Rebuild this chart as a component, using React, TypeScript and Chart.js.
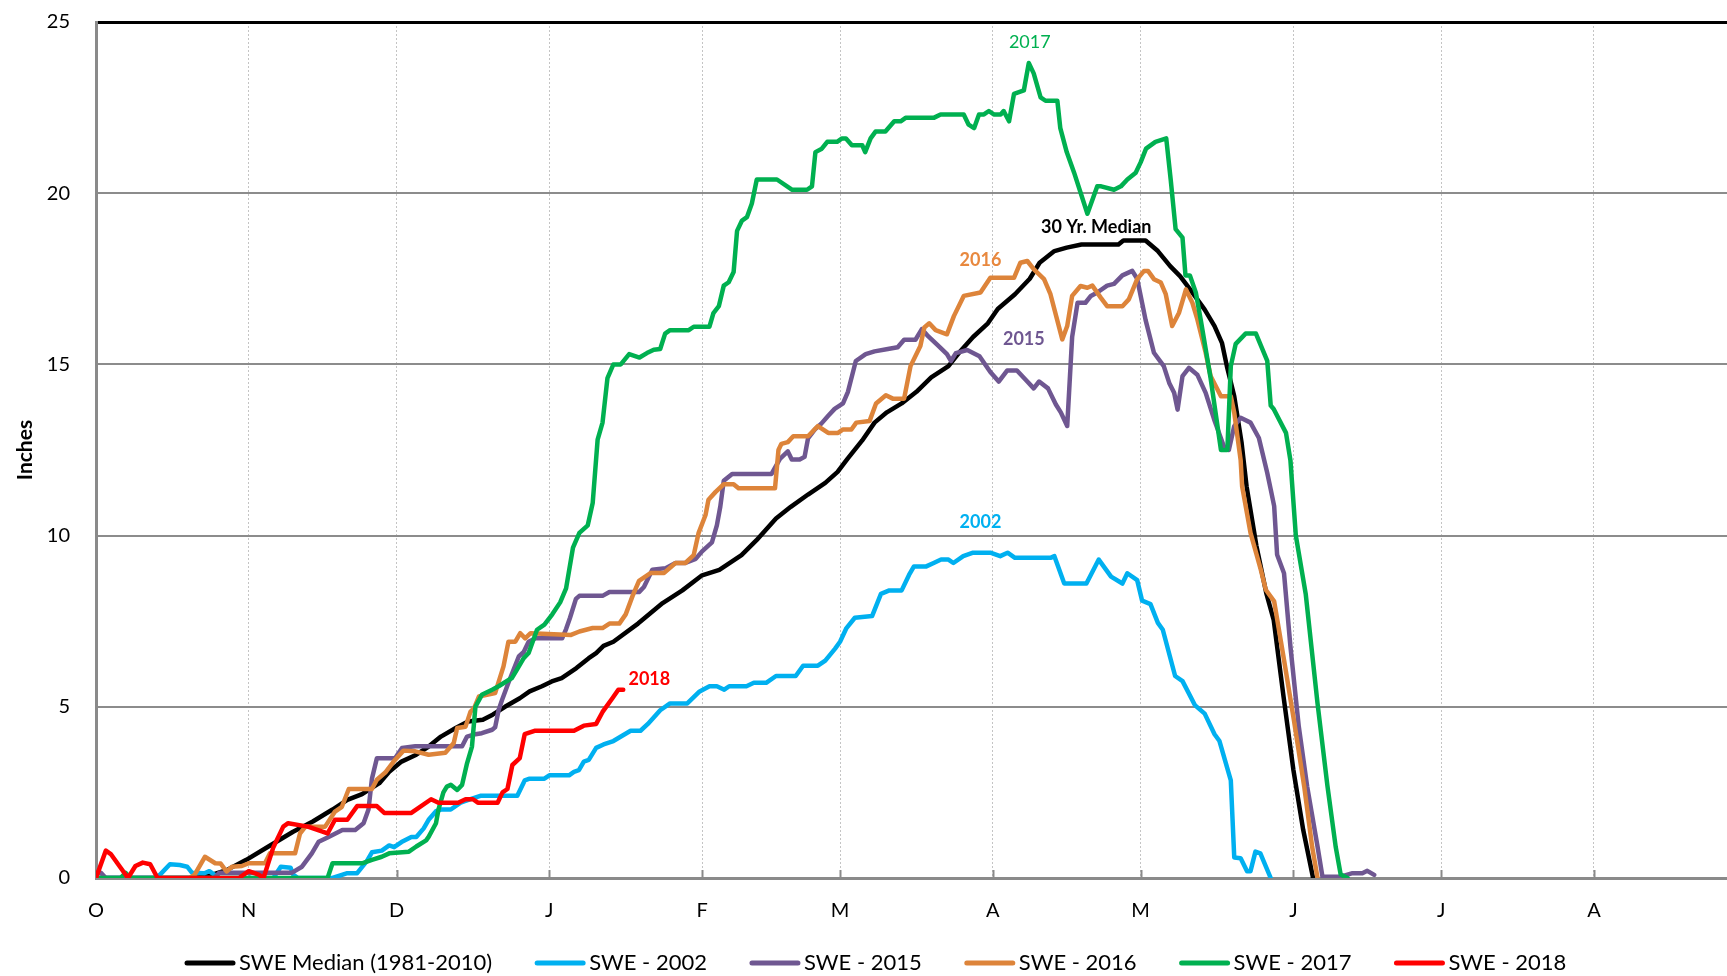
import React, { useEffect, useRef } from 'react';
import { Chart, registerables } from 'chart.js';

Chart.register(...registerables);

// ---------- data ----------
const monthStarts = [0, 31, 61, 92, 123, 151, 182, 212, 243, 273, 304, 335];
const monthLabels = ['O', 'N', 'D', 'J', 'F', 'M', 'A', 'M', 'J', 'J', 'A', 'S'];
const yTickValues = [0, 5, 10, 15, 20, 25];
const seriesNames = ['SWE Median (1981-2010)', 'SWE - 2002', 'SWE - 2015', 'SWE - 2016', 'SWE - 2017', 'SWE - 2018'];
const seriesColors = ['#000000', '#00B0F0', '#6F5791', '#DD843A', '#00B050', '#FF0000'];

// [day of water year (0 = Oct 1), inches]
const medianSWE: [number, number][] = [
  [0, 0], [20, 0], [22.5, 0.05], [26.5, 0.23], [30.5, 0.53], [35, 0.92], [40, 1.35], [44, 1.65], [48, 2.0], [51, 2.28],
  [54, 2.45], [57.5, 2.77], [59.5, 3.1], [62, 3.4], [65, 3.6], [67.5, 3.84], [70, 4.13], [73, 4.38], [75.5, 4.57], [78.5, 4.62],
  [80.5, 4.77], [83, 5.0], [86, 5.25], [88, 5.45], [90.5, 5.6], [92.5, 5.74], [94.5, 5.84], [97.5, 6.13], [100, 6.42], [101.5, 6.57],
  [103, 6.78], [105, 6.9], [110, 7.43], [115, 8.03], [119, 8.4], [123, 8.84], [126.5, 9.0], [131, 9.43], [134, 9.86], [138, 10.5],
  [141, 10.84], [144.5, 11.2], [148, 11.54], [150.5, 11.86], [152.5, 12.24], [155.5, 12.78], [158, 13.3], [160.5, 13.6], [163.5, 13.86],
  [166.5, 14.2], [169.5, 14.62], [173, 14.95], [175.5, 15.4], [178, 15.8], [181, 16.2], [183, 16.62], [186.5, 17.05], [189.5, 17.5],
  [191.5, 17.97], [194.5, 18.31], [197, 18.41], [200, 18.5], [207.5, 18.5], [208.5, 18.62], [213, 18.62], [215.5, 18.31], [218, 17.87],
  [220, 17.58], [222, 17.2], [225, 16.6], [227, 16.12], [228.5, 15.63], [229.5, 14.95], [231, 14.07], [232.5, 12.7], [233.5, 11.44],
  [235.5, 9.7], [237.5, 8.32], [239, 7.54], [241, 5.3], [243, 3.16], [245, 1.4], [247, 0],
];

const swe2002: [number, number][] = [
  [0, 0], [12, 0], [13, 0.1], [15, 0.4], [17, 0.38], [18.5, 0.33], [19.5, 0.15], [22, 0.14], [23, 0.2], [24, 0.1], [25, 0],
  [36, 0], [37.5, 0.33], [39.5, 0.3], [40, 0.1], [41, 0], [48, 0], [51, 0.14], [53, 0.14], [55, 0.5], [56, 0.75], [58, 0.8],
  [59.5, 0.95], [60.5, 0.9], [62, 1.05], [64, 1.2], [65, 1.2], [66.5, 1.45], [67.5, 1.7], [69, 1.95], [70, 2.0], [72, 2.0],
  [74, 2.2], [76, 2.3], [78, 2.4], [85.5, 2.4], [87, 2.85], [88, 2.9], [91, 2.9], [92, 3.0], [96, 3.0], [97, 3.1], [98, 3.15],
  [99, 3.4], [100, 3.45], [101.5, 3.8], [103, 3.9], [105, 4.0], [108.5, 4.3], [110.5, 4.3], [112, 4.5], [114.5, 4.9], [116.5, 5.1],
  [120, 5.1], [122.5, 5.45], [124.5, 5.6], [126, 5.6], [127.5, 5.5], [128.5, 5.6], [132, 5.6], [133.5, 5.7], [136, 5.7], [138, 5.9],
  [142, 5.9], [143.5, 6.2], [146.5, 6.2], [148, 6.35], [150, 6.7], [151, 6.9], [152.3, 7.3], [154, 7.6], [157.5, 7.65], [159.3, 8.3],
  [161, 8.4], [163.5, 8.4], [165, 8.85], [166, 9.1], [168.5, 9.1], [170, 9.2], [171.5, 9.3], [173, 9.3], [174, 9.2], [176, 9.4],
  [178, 9.5], [181.5, 9.5], [183.5, 9.4], [185, 9.5], [186.5, 9.35], [193.7, 9.35], [194.5, 9.4], [196.5, 8.6], [201, 8.6],
  [203.5, 9.3], [206, 8.8], [208.3, 8.6], [209.3, 8.9], [211.3, 8.7], [212.3, 8.1], [214, 8.0], [215.5, 7.45], [216.5, 7.25],
  [219, 5.9], [220.5, 5.75], [223, 5.05], [225, 4.8], [227, 4.2], [228, 4.0], [230.3, 2.85], [231, 0.6], [232.3, 0.58],
  [233.6, 0.2], [234.3, 0.2], [235.3, 0.77], [236.3, 0.72], [238.4, 0],
];

const swe2015: [number, number][] = [
  [0, 0.15], [1, 0.15], [2, 0], [24, 0], [25, 0.15], [39.7, 0.15], [41.8, 0.33], [43.8, 0.72], [45.2, 1.06], [47.2, 1.2], [50, 1.4],
  [52.6, 1.4], [54.3, 1.6], [55.3, 2.0], [56, 2.9], [57, 3.5], [60.7, 3.5], [62.1, 3.8], [64.8, 3.85], [74.3, 3.85], [75.3, 4.13],
  [77, 4.2], [78.3, 4.23], [80.4, 4.33], [81, 4.4], [81.7, 4.9], [82.4, 5.2], [83.7, 5.7], [85.8, 6.47], [86.8, 6.6], [87.8, 6.9],
  [89.2, 7.0], [94.6, 7.0], [95.4, 7.27], [96.2, 7.6], [97.4, 8.15], [98.1, 8.24], [102.8, 8.24], [104.2, 8.35], [110.2, 8.35],
  [111.2, 8.5], [112.9, 9.0], [115.6, 9.05], [117.6, 9.2], [119.6, 9.2], [121.7, 9.32], [123, 9.54], [125, 9.8], [126, 10.3],
  [126.7, 10.85], [127.4, 11.6], [129.1, 11.8], [137.1, 11.8], [138.8, 12.24], [140.4, 12.46], [141.2, 12.22], [142.8, 12.22],
  [143.8, 12.3], [144.5, 12.84], [145.9, 13.1], [147.2, 13.27], [148.6, 13.5], [149.9, 13.7], [151.6, 13.86], [152.6, 14.2],
  [154.2, 15.1], [156.2, 15.3], [158, 15.38], [160.7, 15.45], [162.7, 15.5], [164, 15.72], [166.3, 15.72], [167.6, 16.03],
  [168.7, 15.85], [170.7, 15.58], [172.7, 15.3], [173.5, 15.1], [174.5, 15.33], [176.8, 15.42], [179.3, 15.24], [181.5, 14.78],
  [183.2, 14.5], [184.9, 14.82], [186.9, 14.82], [189, 14.5], [190.3, 14.3], [191.4, 14.5], [193.2, 14.3], [194.8, 13.83],
  [195.8, 13.6], [197.1, 13.2], [198.1, 15.8], [199.2, 16.8], [200.8, 16.8], [201.9, 17.0], [203.2, 17.1], [205.2, 17.3],
  [206.6, 17.35], [208.3, 17.6], [210.3, 17.73], [211.3, 17.5], [213, 16.3], [214.7, 15.34], [216.7, 14.95], [217.8, 14.46],
  [218.8, 14.17], [219.5, 13.68], [220.5, 14.66], [221.8, 14.9], [223.5, 14.7], [225.2, 14.17], [226.9, 13.4], [228.9, 12.6],
  [229.9, 12.5], [231, 13.2], [232.3, 13.44], [234.3, 13.3], [236, 12.85], [237.7, 11.83], [238.4, 11.35], [239.1, 10.86],
  [239.7, 9.44], [241.1, 8.9], [242.4, 6.76], [244.1, 4.42], [245.8, 2.67], [247.9, 0.92], [248.9, 0.04], [252.6, 0.04],
  [255, 0.14], [257, 0.14], [258, 0.21], [259.4, 0.09],
];

const swe2016: [number, number][] = [
  [19, 0], [20, 0.09], [22.1, 0.62], [24.2, 0.43], [25.3, 0.42], [26.5, 0.19], [27.6, 0.33], [29.6, 0.35], [31, 0.43], [34.3, 0.43],
  [35.3, 0.72], [40.4, 0.72], [41.4, 1.3], [42.5, 1.5], [46.5, 1.5], [48.5, 1.94], [49.9, 2.08], [51.3, 2.6], [56, 2.6], [57, 2.87],
  [58.7, 3.08], [60.4, 3.4], [62.4, 3.72], [64.8, 3.7], [67.5, 3.6], [70.9, 3.66], [72.6, 3.94], [73.3, 4.38], [75, 4.42], [76, 4.86],
  [76.7, 4.95], [77.7, 5.3], [81, 5.4], [82.7, 6.18], [83.7, 6.9], [85.1, 6.9], [86.1, 7.15], [87.1, 7.0], [88.2, 7.15], [96.4, 7.1],
  [98.1, 7.2], [100.8, 7.3], [102.8, 7.3], [104.2, 7.43], [106.2, 7.43], [107.5, 7.7], [108.9, 8.24], [110.2, 8.68], [112.6, 8.91],
  [115.3, 8.91], [117.6, 9.2], [119.6, 9.2], [121.3, 9.43], [122.3, 10.08], [123.7, 10.6], [124.3, 11.05], [125.7, 11.27],
  [127.4, 11.5], [129.4, 11.5], [130.4, 11.38], [137.8, 11.38], [138.5, 12.5], [139.1, 12.68], [140.4, 12.73], [141.5, 12.9],
  [144.5, 12.9], [146.5, 13.2], [148.6, 13.0], [150.6, 13.0], [151.6, 13.1], [153.3, 13.1], [154.3, 13.3], [157, 13.35],
  [158.3, 13.86], [160.3, 14.1], [161.7, 14.0], [164, 14.0], [165.3, 14.95], [167.3, 15.54], [168.1, 16.08], [169.1, 16.2],
  [170.4, 16.0], [172.7, 15.88], [174.1, 16.41], [176.1, 17.0], [179.5, 17.1], [181.5, 17.53], [186.3, 17.53], [187.6, 17.97],
  [189, 18.02], [190.3, 17.78], [192.4, 17.49], [193.7, 17.05], [196.1, 15.73], [197.1, 16.12], [198.1, 17.0], [199.8, 17.29],
  [201.2, 17.24], [202.2, 17.3], [203.9, 16.95], [205.2, 16.7], [208.3, 16.7], [209.6, 16.9], [211.3, 17.49], [212.7, 17.73],
  [213.5, 17.73], [214.7, 17.49], [216.1, 17.39], [217.1, 17.05], [218.4, 16.12], [219.8, 16.51], [221.2, 17.19], [222.5, 16.8],
  [223.5, 16.32], [225.2, 15.34], [226.2, 14.66], [228.3, 14.07], [230.3, 14.07], [231, 13.59], [232.3, 12.2], [232.6, 11.44],
  [234.3, 10.08], [236.4, 9.0], [237.4, 8.42], [239.1, 8.08], [241.1, 6.37], [243.1, 4.62], [245.2, 2.67], [246.8, 0.92], [247.9, 0],
];

const swe2017: [number, number][] = [
  [0, 0], [5, 0], [6, 0.15], [7, 0], [47, 0], [48, 0.43], [54, 0.43], [56, 0.53], [58, 0.62], [59.5, 0.72], [63.5, 0.77], [65, 0.92],
  [67, 1.1], [67.5, 1.2], [69, 1.6], [69.5, 2.0], [70.5, 2.5], [71.2, 2.67], [72, 2.72], [73.3, 2.57], [74.3, 2.72], [75.3, 3.35],
  [76.3, 3.84], [77, 5.0], [78.3, 5.35], [80.4, 5.5], [81.7, 5.6], [84.4, 5.84], [85.4, 6.08], [86.8, 6.42], [87.8, 6.57],
  [89.5, 7.25], [91, 7.4], [92.6, 7.7], [94.2, 8.05], [95.4, 8.46], [96.8, 9.65], [98.1, 10.08], [99.8, 10.3], [100.8, 10.95],
  [101.8, 12.8], [102.8, 13.3], [103.8, 14.6], [105, 15.0], [106.5, 15.0], [108.2, 15.3], [110.3, 15.2], [111.8, 15.33],
  [113.2, 15.43], [114.5, 15.45], [115.5, 15.9], [116.5, 16.0], [120.3, 16.0], [121.3, 16.1], [124.5, 16.1], [125.3, 16.5],
  [126.4, 16.7], [127.4, 17.3], [128.4, 17.4], [129.4, 17.7], [130.1, 18.9], [131.1, 19.2], [132.1, 19.3], [133.1, 19.7],
  [134.1, 20.4], [138.2, 20.4], [141.3, 20.1], [144.3, 20.1], [145.3, 20.2], [146, 21.2], [147.3, 21.3], [148.4, 21.5],
  [150.4, 21.5], [151.4, 21.6], [152.2, 21.6], [153.4, 21.4], [155.5, 21.4], [156.1, 21.2], [157.2, 21.6], [158.2, 21.8],
  [160.2, 21.8], [162, 22.1], [163.3, 22.1], [164.3, 22.2], [170, 22.2], [171.4, 22.3], [176.1, 22.3], [177.1, 22.0],
  [178.2, 21.9], [179.2, 22.3], [180.2, 22.3], [181.2, 22.4], [182.2, 22.3], [183.6, 22.3], [184.2, 22.4], [185.3, 22.1],
  [186.3, 22.9], [188.3, 23.0], [189.3, 23.8], [190.3, 23.5], [191.7, 22.8], [192.7, 22.7], [195.1, 22.7], [195.7, 21.9],
  [197, 21.2], [198.5, 20.6], [201.2, 19.4], [203.2, 20.2], [204, 20.2], [206.6, 20.1], [208, 20.2], [209.3, 20.4], [211, 20.6],
  [212, 20.9], [213.1, 21.3], [215, 21.5], [217.2, 21.6], [218.1, 20.4], [219.1, 18.95], [220.5, 18.7], [221.1, 17.6],
  [222, 17.6], [223.2, 17.1], [224.2, 16.3], [226.2, 14.6], [228.3, 12.5], [229.6, 12.5], [230.3, 14.95], [231.3, 15.6],
  [233.3, 15.9], [235.4, 15.9], [237.7, 15.1], [238.4, 13.8], [239, 13.7], [241.5, 13.0], [242.4, 12.2], [243.5, 10.0],
  [245.5, 8.3], [247.9, 5.1], [249.9, 2.7], [251.6, 0.9], [252.6, 0.1], [254, 0],
];

const swe2018: [number, number][] = [
  [0, 0], [2, 0.8], [3, 0.7], [5, 0.3], [6.5, 0], [8, 0.35], [9.5, 0.45], [11, 0.4], [12.5, 0], [29, 0], [31, 0.2], [33, 0.1],
  [34, 0], [36, 0.9], [38, 1.5], [39, 1.6], [43, 1.5], [47, 1.3], [48.5, 1.7], [51, 1.7], [53, 2.1], [57, 2.1], [58.5, 1.9],
  [64, 1.9], [68, 2.3], [69.5, 2.2], [73.5, 2.2], [75, 2.3], [76.5, 2.3], [77.5, 2.2], [81.5, 2.2], [82.5, 2.5], [83.5, 2.6],
  [84.5, 3.3], [86, 3.5], [87, 4.2], [89, 4.3], [97, 4.3], [99, 4.45], [101.5, 4.5], [102.8, 4.85], [104.8, 5.25], [106, 5.5],
  [107, 5.5],
];

const seriesData = [medianSWE, swe2002, swe2015, swe2016, swe2017, swe2018];

const noteTexts = ['2017', '30 Yr. Median', '2016', '2015', '2002', '2018'];
const noteDays = [189.5, 203, 179.5, 188.3, 179.5, 112.3];
const noteValues = [24.4, 19.0, 18.05, 15.75, 10.38, 5.82];
const noteColors = ['#00B050', '#000000', '#E8883E', '#6F5791', '#00B0F0', '#FF0000'];
const noteBold = [false, true, true, true, true, true];

const X_MAX = 331;
const FONT = 'Lato, "Open Sans", sans-serif';

// ---------- plugins ----------
const upTicksPlugin = {
  id: 'upTicks',
  beforeDatasetsDraw(chart: any) {
    const { ctx, scales } = chart;
    const x = scales.x;
    const bottom = chart.chartArea.bottom;
    ctx.save();
    ctx.strokeStyle = '#8a8a8a';
    ctx.lineWidth = 2;
    monthStarts.forEach((m) => {
      if (m <= 0 || m > X_MAX) return;
      const px = Math.round(x.getPixelForValue(m)) + 0.5;
      ctx.beginPath();
      ctx.moveTo(px, bottom);
      ctx.lineTo(px, bottom - 8);
      ctx.stroke();
    });
    ctx.restore();
  },
};

const notesPlugin = {
  id: 'notes',
  afterDatasetsDraw(chart: any) {
    const { ctx, scales } = chart;
    ctx.save();
    ctx.textAlign = 'center';
    ctx.textBaseline = 'middle';
    noteTexts.forEach((t, i) => {
      ctx.font = `${noteBold[i] ? 'bold ' : ''}18px ${FONT}`;
      ctx.fillStyle = noteColors[i];
      ctx.fillText(t, scales.x.getPixelForValue(noteDays[i]), scales.y.getPixelForValue(noteValues[i]));
    });
    ctx.restore();
  },
};

const legendPlugin = {
  id: 'customLegend',
  afterDraw(chart: any) {
    const { ctx } = chart;
    const y = 963;
    const sw = 50;
    const gapText = 4;
    const gapItem = 43;
    ctx.save();
    ctx.font = `22px ${FONT}`;
    ctx.textBaseline = 'middle';
    ctx.textAlign = 'left';
    let x = 185;
    seriesNames.forEach((name, i) => {
      ctx.strokeStyle = seriesColors[i];
      ctx.lineWidth = 5;
      ctx.lineCap = 'round';
      ctx.beginPath();
      ctx.moveTo(x + 2, y);
      ctx.lineTo(x + sw - 2, y);
      ctx.stroke();
      ctx.fillStyle = '#000';
      ctx.fillText(name, x + sw + gapText, y);
      x += sw + gapText + ctx.measureText(name).width + gapItem;
    });
    ctx.restore();
  },
};

export default function App() {
  const ref = useRef<HTMLCanvasElement | null>(null);

  useEffect(() => {
    if (!ref.current) return;
    const n = seriesData.length;
    const chart = new Chart(ref.current, {
      type: 'line',
      data: {
        datasets: seriesData.map((pts, i) => ({
          label: seriesNames[i],
          data: pts.map(([d, v]) => ({ x: d, y: v })),
          borderColor: seriesColors[i],
          backgroundColor: seriesColors[i],
          borderWidth: 4.5,
          pointRadius: 0,
          pointHoverRadius: 0,
          tension: 0,
          fill: false,
          borderJoinStyle: 'round' as const,
          borderCapStyle: 'round' as const,
          order: n - 1 - i,
        })),
      },
      options: {
        responsive: false,
        animation: false,
        devicePixelRatio: 1,
        events: [],
        layout: { padding: { top: 22, left: 0, right: 0, bottom: 0 } },
        plugins: {
          legend: { display: false },
          tooltip: { enabled: false },
          title: { display: false },
        },
        scales: {
          x: {
            type: 'linear',
            min: 0,
            max: X_MAX,
            afterBuildTicks: (scale: any) => {
              scale.ticks = monthStarts.filter((m) => m <= X_MAX).map((m) => ({ value: m }));
            },
            afterFit: (scale: any) => {
              scale.height = 98;
              scale.paddingLeft = 0;
              scale.paddingRight = 0;
            },
            ticks: {
              autoSkip: false,
              maxRotation: 0,
              minRotation: 0,
              padding: 21,
              color: '#000',
              font: { family: FONT, size: 20 },
              callback: (value: any) => {
                const idx = monthStarts.indexOf(Number(value));
                return idx >= 0 ? monthLabels[idx] : '';
              },
            },
            grid: {
              color: '#C4C4C4',
              lineWidth: 1,
              drawTicks: false,
            },
            border: { display: true, color: '#8a8a8a', width: 3, dash: [2, 2] },
          },
          y: {
            type: 'linear',
            min: 0,
            max: 25,
            afterBuildTicks: (scale: any) => {
              scale.ticks = yTickValues.map((v) => ({ value: v }));
            },
            afterFit: (scale: any) => {
              scale.width = 96;
              scale.paddingTop = 0;
              scale.paddingBottom = 0;
            },
            ticks: {
              padding: 26,
              color: '#000',
              font: { family: FONT, size: 20 },
            },
            grid: {
              color: (c: any) => (c.tick && c.tick.value === 25 ? '#000000' : '#8c8c8c'),
              lineWidth: (c: any) => (c.tick && c.tick.value === 25 ? 3 : 2),
              drawTicks: false,
            },
            border: { display: true, color: '#8a8a8a', width: 3 },
            title: {
              display: true,
              text: 'Inches',
              color: '#000',
              font: { family: FONT, size: 21, weight: 'bold' },
              padding: { top: 13, bottom: 0 },
            },
          },
        },
      },
      plugins: [upTicksPlugin, notesPlugin, legendPlugin],
    } as any);
    return () => chart.destroy();
  }, []);

  return (
    <div style={{ position: 'fixed', left: 0, top: 0, width: 1727, height: 976, background: '#fff', overflow: 'hidden' }}>
      <canvas ref={ref} width={1727} height={976} style={{ width: 1727, height: 976, display: 'block' }} />
    </div>
  );
}
